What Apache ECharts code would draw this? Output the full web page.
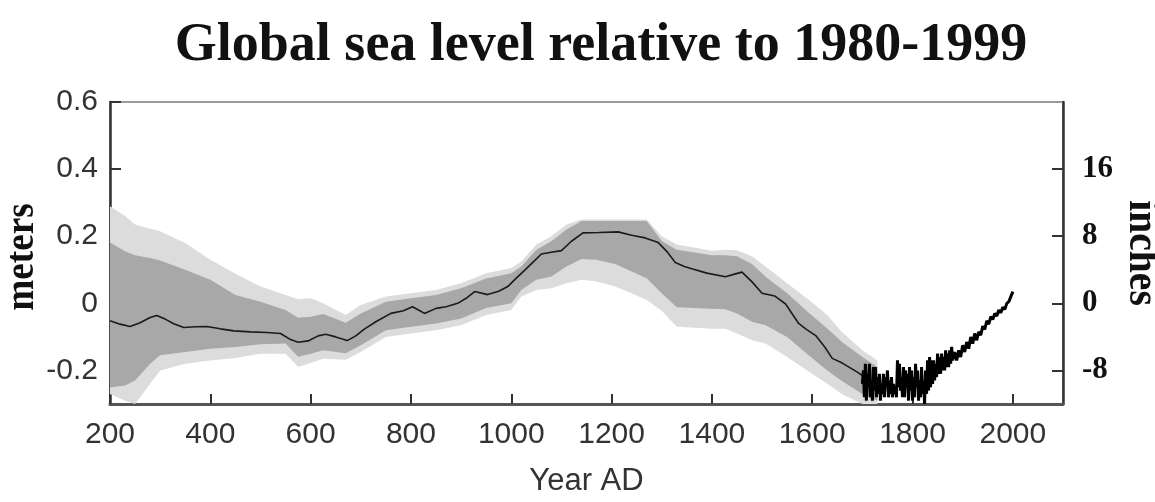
<!DOCTYPE html>
<html>
<head>
<meta charset="utf-8">
<script src="https://cdn.jsdelivr.net/npm/echarts@6/dist/echarts.min.js"></script>
<style>
html,body{margin:0;padding:0;background:#fff;}
#chart{width:1155px;height:502px;}
</style>
</head>
<body>
<div id="chart"></div>
<script>
// ---- Data (metres relative to 1980-1999) ----
const xTickValues = [200,400,600,800,1000,1200,1400,1600,1800,2000];
const yTickValues = [-0.2,0,0.2,0.4,0.6];
const inchTickValues = [-0.2,0,0.2,0.4];
const inchTickLabels = ['-8','0','8','16'];

const bandYears = [200,230,250,280,300,350,400,450,500,550,575,600,625,670,700,750,800,850,900,950,1000,1020,1050,1080,1110,1140,1170,1207,1240,1270,1300,1330,1400,1427,1450,1480,1507,1550,1593,1630,1660,1700,1730];
const darkUpper = [0.181,0.155,0.143,0.135,0.128,0.10,0.07,0.025,0.005,-0.02,-0.043,-0.04,-0.032,-0.058,-0.03,0.005,0.015,0.025,0.045,0.074,0.09,0.11,0.16,0.185,0.22,0.245,0.245,0.245,0.245,0.245,0.186,0.16,0.143,0.143,0.14,0.117,0.079,0.03,-0.028,-0.075,-0.116,-0.16,-0.19];
const darkLower = [-0.251,-0.245,-0.23,-0.18,-0.155,-0.145,-0.135,-0.13,-0.122,-0.12,-0.159,-0.15,-0.14,-0.149,-0.125,-0.08,-0.07,-0.06,-0.045,-0.014,0.0,0.04,0.07,0.08,0.11,0.132,0.13,0.117,0.095,0.075,0.03,-0.012,-0.016,-0.018,-0.03,-0.055,-0.065,-0.1,-0.155,-0.2,-0.232,-0.27,-0.29];
const lightUpper = [0.289,0.26,0.235,0.222,0.215,0.18,0.13,0.088,0.05,0.025,0.012,0.015,0.0,-0.035,-0.005,0.02,0.03,0.04,0.06,0.09,0.105,0.125,0.175,0.2,0.235,0.25,0.25,0.25,0.25,0.25,0.2,0.175,0.157,0.16,0.158,0.14,0.11,0.06,0.011,-0.035,-0.087,-0.14,-0.17];
const lightLower = [-0.27,-0.29,-0.3,-0.24,-0.2,-0.18,-0.17,-0.163,-0.15,-0.15,-0.189,-0.178,-0.165,-0.168,-0.145,-0.1,-0.09,-0.08,-0.065,-0.035,-0.02,0.02,0.04,0.045,0.06,0.07,0.065,0.05,0.03,0.01,-0.022,-0.07,-0.076,-0.076,-0.09,-0.11,-0.12,-0.16,-0.203,-0.24,-0.271,-0.3,-0.3];

const lineYears = [200,220,240,260,280,293,310,327,347,370,393,420,447,480,513,540,560,575,595,615,630,650,673,690,707,730,760,785,803,815,827,850,870,893,910,927,953,975,993,1010,1027,1045,1060,1080,1100,1120,1143,1175,1213,1240,1267,1293,1310,1327,1345,1360,1390,1427,1445,1460,1480,1500,1525,1547,1573,1587,1607,1625,1640,1660,1690,1720];
const lineValues = [-0.052,-0.062,-0.069,-0.058,-0.042,-0.036,-0.047,-0.061,-0.072,-0.07,-0.069,-0.076,-0.082,-0.085,-0.087,-0.09,-0.108,-0.116,-0.112,-0.097,-0.092,-0.1,-0.111,-0.097,-0.077,-0.055,-0.03,-0.022,-0.01,-0.02,-0.03,-0.015,-0.01,0.0,0.015,0.035,0.026,0.036,0.05,0.075,0.099,0.125,0.147,0.152,0.157,0.185,0.21,0.211,0.213,0.203,0.195,0.181,0.155,0.122,0.11,0.103,0.09,0.079,0.087,0.093,0.064,0.03,0.022,-0.002,-0.06,-0.076,-0.096,-0.13,-0.164,-0.178,-0.205,-0.236];

const tideYears = [1700,1702,1704,1706,1708,1710,1712,1714,1716,1718,1720,1722,1724,1726,1728,1730,1732,1734,1736,1738,1740,1742,1744,1746,1748,1750,1752,1754,1756,1758,1760,1762,1764,1766,1768,1770,1772,1774,1776,1778,1780,1782,1784,1786,1788,1790,1792,1794,1796,1798,1800,1802,1804,1806,1808,1810,1812,1814,1816,1818,1820,1822,1824,1826,1828,1830,1832,1834,1836,1838,1840,1842,1844,1846,1848,1850,1852,1854,1856,1858,1860,1862,1864,1866,1868,1870,1872,1874,1876,1878,1880,1884,1888,1892,1896,1900,1904,1908,1912,1916,1920,1924,1928,1932,1936,1940,1944,1948,1952,1956,1960,1964,1968,1972,1976,1980,1984,1988,1992,1996,2000];
const tideValues = [-0.24,-0.20,-0.28,-0.18,-0.29,-0.21,-0.25,-0.18,-0.28,-0.23,-0.29,-0.19,-0.26,-0.19,-0.28,-0.22,-0.27,-0.21,-0.29,-0.24,-0.27,-0.21,-0.28,-0.22,-0.25,-0.20,-0.28,-0.23,-0.27,-0.22,-0.28,-0.24,-0.27,-0.25,-0.28,-0.17,-0.25,-0.18,-0.26,-0.22,-0.28,-0.19,-0.28,-0.20,-0.25,-0.21,-0.29,-0.19,-0.26,-0.20,-0.29,-0.22,-0.28,-0.18,-0.25,-0.20,-0.29,-0.23,-0.28,-0.19,-0.27,-0.23,-0.30,-0.20,-0.27,-0.17,-0.26,-0.16,-0.25,-0.17,-0.24,-0.17,-0.23,-0.18,-0.22,-0.15,-0.21,-0.16,-0.21,-0.15,-0.20,-0.16,-0.20,-0.14,-0.19,-0.15,-0.19,-0.14,-0.18,-0.13,-0.17,-0.145,-0.17,-0.14,-0.16,-0.125,-0.145,-0.115,-0.135,-0.1,-0.12,-0.09,-0.11,-0.085,-0.095,-0.068,-0.078,-0.052,-0.062,-0.04,-0.048,-0.03,-0.038,-0.02,-0.028,-0.012,-0.018,0.0,0.005,0.02,0.035];

// ---- helpers ----
function pairs(xs, ys){ return xs.map(function(x,i){ return [x, ys[i]]; }); }
function bandRenderer(upper, lower, color){
  return function(params, api){
    const pts = [];
    for (let i = 0; i < bandYears.length; i++) pts.push(api.coord([bandYears[i], upper[i]]));
    for (let i = bandYears.length - 1; i >= 0; i--) pts.push(api.coord([bandYears[i], lower[i]]));
    return { type:'polygon', shape:{ points: pts }, style:{ fill: color } };
  };
}

const chart = echarts.init(document.getElementById('chart'), null, {renderer:'canvas'});
const sans = '"Liberation Sans", Arial, sans-serif';
const serif = '"Liberation Serif", "Times New Roman", serif';

chart.setOption({
  animation:false,
  backgroundColor:'#fff',
  title:{
    text:'Global sea level relative to 1980-1999',
    left:596, top:14, textAlign:'center',
    textStyle:{ fontFamily:serif, fontWeight:'bold', fontSize:54, color:'#111' }
  },
  grid:{ left:110, right:92, top:102, bottom:91, show:true, borderColor:'#9a9a9a', borderWidth:2, backgroundColor:'#fff', containLabel:false },
  xAxis:{
    type:'value', min:200, max:2100,
    name:'Year AD', nameLocation:'middle', nameGap:62,
    nameTextStyle:{ fontFamily:sans, fontSize:31, color:'#333' },
    axisLine:{ show:true, onZero:false, lineStyle:{ color:'#555', width:3 } },
    axisTick:{ show:true, inside:true, length:10, customValues:xTickValues, lineStyle:{ color:'#333', width:2 } },
    axisLabel:{ show:true, margin:16, customValues:xTickValues, fontFamily:sans, fontSize:30, color:'#333',
      formatter:function(v){ return String(Math.round(v)); } },
    splitLine:{ show:false }
  },
  yAxis:[{
    type:'value', min:-0.3, max:0.6, position:'left',
    axisLine:{ show:true, onZero:false, lineStyle:{ color:'#333', width:2.5 } },
    axisTick:{ show:true, inside:true, length:11, customValues:yTickValues, lineStyle:{ color:'#333', width:2 } },
    axisLabel:{ show:true, margin:12, customValues:yTickValues, fontFamily:sans, fontSize:30, color:'#333',
      formatter:function(v){ return String(Math.round(v*10)/10); } },
    splitLine:{ show:false }
  },{
    type:'value', min:-0.3, max:0.6, position:'right',
    axisLine:{ show:true, onZero:false, lineStyle:{ color:'#333', width:2.5 } },
    axisTick:{ show:true, inside:true, length:11, customValues:inchTickValues, lineStyle:{ color:'#333', width:2 } },
    axisLabel:{ show:true, margin:19, customValues:inchTickValues, fontFamily:serif, fontWeight:'bold', fontSize:31, color:'#111',
      formatter:function(v){ const i = inchTickValues.findIndex(function(t){ return Math.abs(t - v) < 1e-6; }); return i >= 0 ? inchTickLabels[i] : ''; } },
    splitLine:{ show:false }
  }],
  graphic:[
    { type:'text', x:23, y:257, rotation:Math.PI/2, scaleX:0.93,
      style:{ text:'meters', font:'bold 40px ' + serif, fill:'#111', textAlign:'center', textVerticalAlign:'middle', align:'center', verticalAlign:'middle' } },
    { type:'text', x:1141, y:253, rotation:-Math.PI/2, scaleX:0.9,
      style:{ text:'inches', font:'bold 44px ' + serif, fill:'#111', textAlign:'center', textVerticalAlign:'middle', align:'center', verticalAlign:'middle' } }
  ],
  series:[
    { type:'custom', name:'95% range', clip:true, silent:true, z:1,
      renderItem: bandRenderer(lightUpper, lightLower, '#dcdcdc'), data:[[200, 0]] },
    { type:'custom', name:'68% range', clip:true, silent:true, z:2,
      renderItem: bandRenderer(darkUpper, darkLower, '#a8a8a8'), data:[[200, 0]] },
    { type:'line', name:'reconstruction', data:pairs(lineYears, lineValues), showSymbol:false, z:3,
      lineStyle:{ color:'#1a1a1a', width:1.6 } },
    { type:'line', name:'tide gauges', data:pairs(tideYears, tideValues), showSymbol:false, z:4,
      lineStyle:{ color:'#000', width:3 } }
  ]
});
</script>
</body>
</html>
